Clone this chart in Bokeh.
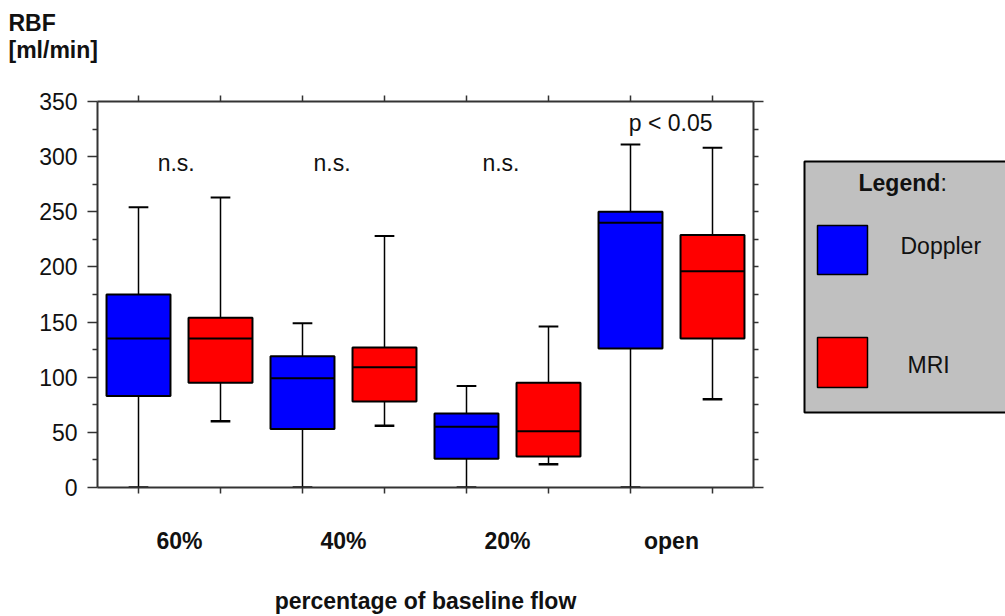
import numpy as np
from bokeh.plotting import figure
from bokeh.layouts import column, row
from bokeh.models import Range1d, LinearAxis, FixedTicker, ColumnDataSource
from bokeh.core.properties import value
from bokeh.embed import file_html
from bokeh.resources import INLINE

# ---------------- data ----------------
groups = ["60%", "40%", "20%", "open"]

doppler_low = [0, 0, 0, 0]
doppler_q1 = [83, 53, 26, 126]
doppler_med = [135, 99, 55, 240]
doppler_q3 = [175, 119, 67, 250]
doppler_high = [254, 149, 92, 311]

mri_low = [60, 56, 21, 80]
mri_q1 = [95, 78, 28, 135]
mri_med = [135, 109, 51, 196]
mri_q3 = [154, 127, 95, 229]
mri_high = [263, 228, 146, 308]

sig_labels = ["n.s.", "n.s.", "n.s.", "p < 0.05"]
sig_levels = [286, 286, 286, 322]

y_ticks = [0, 50, 100, 150, 200, 250, 300, 350]
y_minor = [25, 75, 125, 175, 225, 275, 325]

series_names = ["Doppler", "MRI"]
series_colors = ["#0000FF", "#FF0000"]
y_title = ["RBF", "[ml/min]"]
x_title = "percentage of baseline flow"

# ---------------- layout / style ----------------
FONT = "Liberation Sans"
FS = "23px"
PAGE_W, PAGE_H = 1005, 616
HEAD_H = 70                      # header strip with the y title
MAIN_W = 785                     # main chart width, the rest is the legend panel
BODY_H = PAGE_H - HEAD_H
BL, BR, BT, BB = 97, 32, 31, 129  # frame 656 x 386
FRAME_TOP, FRAME_BOT = HEAD_H + BT, PAGE_H - BB
X0, X1 = 0, 8
Y0, Y1 = 0, 350
AX = "#333333"
TXT = "#111111"
BOX_W = 0.78
CAP_W = 0.24
TY = -9                           # text baseline correction (px)


def bare_figure(w, h, xr, yr):
    f = figure(width=w, height=h, output_backend="svg", toolbar_location=None,
               x_range=xr, y_range=yr, x_axis_type=None, y_axis_type=None,
               min_border_left=0, min_border_right=0, min_border_top=0, min_border_bottom=0)
    f.outline_line_color = None
    f.background_fill_color = "white"
    f.border_fill_color = "white"
    return f


# ---------------- header (y title) ----------------
head = bare_figure(PAGE_W, HEAD_H, Range1d(0, PAGE_W), Range1d(HEAD_H, 0))
head.text(x=[8, 8], y=[31, 58], text=y_title, text_font=value(FONT), text_font_size=value(FS),
          text_font_style="bold", text_color=TXT, text_align="left", text_baseline="alphabetic",
          y_offset=TY)

# ---------------- main chart ----------------
p = figure(width=MAIN_W, height=BODY_H, output_backend="svg", toolbar_location=None,
           x_range=Range1d(X0, X1), y_range=Range1d(Y0, Y1),
           x_axis_type=None, y_axis_type=None,
           min_border_left=BL, min_border_right=BR,
           min_border_top=BT, min_border_bottom=BB)
p.outline_line_color = None
p.background_fill_color = "white"
p.border_fill_color = "white"

n = len(groups)
pos_d = np.arange(n) * 2 + 0.5
pos_m = np.arange(n) * 2 + 1.5
centers = np.arange(n) * 2 + 1.0
box_pos = list(np.sort(np.concatenate([pos_d, pos_m])))


def style_axis(ax):
    ax.axis_line_color = AX
    ax.axis_line_width = 2
    ax.major_tick_line_color = AX
    ax.major_tick_line_width = 1.5
    ax.minor_tick_line_color = AX
    ax.minor_tick_line_width = 1.5
    ax.major_tick_in = 0
    ax.minor_tick_in = 0
    ax.major_label_text_font = FONT
    ax.major_label_text_font_size = FS
    ax.major_label_text_color = TXT


def hide_labels(ax):
    ax.major_label_text_color = None
    ax.major_label_text_font_size = "1px"
    ax.major_label_standoff = 0


left = LinearAxis(ticker=FixedTicker(ticks=y_ticks, minor_ticks=y_minor))
style_axis(left)
left.major_tick_out = 10
left.minor_tick_out = 5
left.major_label_standoff = 10
p.add_layout(left, "left")

right = LinearAxis(ticker=FixedTicker(ticks=[Y0, Y1], minor_ticks=y_minor + y_ticks[1:-1]))
style_axis(right)
right.major_tick_out = 10
right.minor_tick_out = 5
hide_labels(right)
p.add_layout(right, "right")

top = LinearAxis(ticker=FixedTicker(ticks=box_pos))
style_axis(top)
top.major_tick_out = 6
hide_labels(top)
p.add_layout(top, "above")

bottom = LinearAxis(ticker=FixedTicker(ticks=list(centers), minor_ticks=box_pos))
style_axis(bottom)
bottom.major_tick_line_color = None
bottom.major_tick_out = 6
bottom.minor_tick_out = 6
bottom.major_label_standoff = 34
bottom.major_label_text_font_style = "bold"
bottom.major_label_overrides = {float(c): g for c, g in zip(centers, groups)}
bottom.axis_label = x_title
bottom.axis_label_text_font = FONT
bottom.axis_label_text_font_size = FS
bottom.axis_label_text_font_style = "bold"
bottom.axis_label_text_color = TXT
bottom.axis_label_standoff = 31
p.add_layout(bottom, "below")


def add_series(pos, low, q1, med, q3, high, color):
    pos = np.asarray(pos, float)
    src = ColumnDataSource(dict(
        x=pos, low=low, q1=q1, med=med, q3=q3, high=high,
        xl=pos - BOX_W / 2, xr=pos + BOX_W / 2,
        cl=pos - CAP_W / 2, cr=pos + CAP_W / 2))
    p.segment(x0="x", y0="q3", x1="x", y1="high", source=src, line_color="black", line_width=1.5)
    p.segment(x0="x", y0="low", x1="x", y1="q1", source=src, line_color="black", line_width=1.5)
    p.segment(x0="cl", y0="high", x1="cr", y1="high", source=src, line_color="black", line_width=2)
    p.segment(x0="cl", y0="low", x1="cr", y1="low", source=src, line_color="black", line_width=2.5)
    p.vbar(x="x", width=BOX_W, bottom="q1", top="q3", source=src,
           fill_color=color, line_color="black", line_width=2)
    p.segment(x0="xl", y0="med", x1="xr", y1="med", source=src, line_color="black", line_width=2)


add_series(pos_d, doppler_low, doppler_q1, doppler_med, doppler_q3, doppler_high, series_colors[0])
add_series(pos_m, mri_low, mri_q1, mri_med, mri_q3, mri_high, series_colors[1])

sig_dx = [-0.04, -0.14, -0.08, -0.01]
p.text(x=list(centers + np.array(sig_dx)), y=sig_levels, text=sig_labels,
       text_font=value(FONT), text_font_size=value(FS), text_color=TXT,
       text_align="center", text_baseline="alphabetic", y_offset=TY)

# ---------------- legend panel (page pixel coordinates; frame aligned with main chart) -------
lg = bare_figure(PAGE_W - MAIN_W, BODY_H, Range1d(MAIN_W, PAGE_W), Range1d(FRAME_BOT, FRAME_TOP))
lg.quad(left=[804], right=[PAGE_W + 30], top=[161], bottom=[412],
        fill_color="#C0C0C0", line_color="black", line_width=2)
lg.quad(left=[817, 817], right=[867, 867], top=[225, 337], bottom=[274, 387],
        fill_color=series_colors, line_color="black", line_width=1.5)
lg.text(x=[858], y=[191], text=["Legend"], text_font=value(FONT), text_font_size=value(FS),
        text_font_style="bold", text_color=TXT, text_baseline="alphabetic", y_offset=TY)
lg.text(x=[940], y=[191], text=[":"], text_font=value(FONT), text_font_size=value(FS),
        text_color=TXT, text_baseline="alphabetic", y_offset=TY)
lg.text(x=[900, 907], y=[254, 373], text=series_names, text_font=value(FONT),
        text_font_size=value(FS), text_color=TXT, text_baseline="alphabetic", y_offset=TY)

layout = column(head, row(p, lg, spacing=0), spacing=0)
open("out.html", "w").write(file_html(layout, INLINE))
